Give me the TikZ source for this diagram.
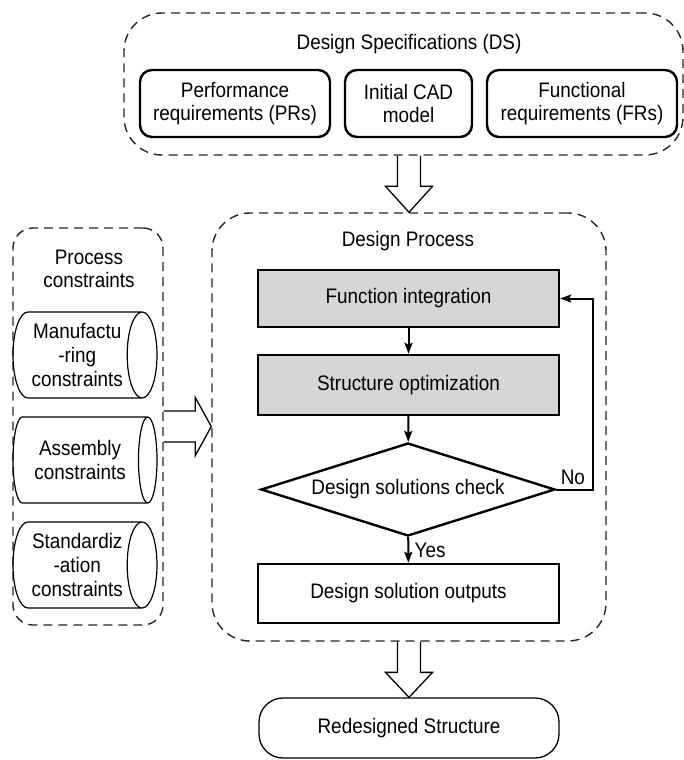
\documentclass[tikz,border=0pt]{standalone}
\usepackage{fontspec}
\setmainfont{Liberation Sans}[FakeStretch=0.9]
\usetikzlibrary{shapes.geometric,arrows.meta,calc}
\begin{document}
\begin{tikzpicture}[x=1pt,y=-1pt,
  font=\fontsize{21}{23}\selectfont,
  dashbox/.style={draw=black!85, line width=1.4pt, dash pattern=on 9pt off 6pt, inner sep=0pt},
  reqbox/.style={draw, line width=2.4pt, rounded corners=12pt, align=center, minimum height=67pt, inner sep=0pt},
  procbox/.style={draw, line width=2.4pt, fill=black!16, minimum width=301pt, inner sep=0pt},
  outbox/.style={draw, line width=2.4pt, fill=white, minimum width=301pt, inner sep=0pt},
  cyl/.style={cylinder, draw, line width=1.2pt, aspect=0.47, minimum height=144pt, minimum width=86pt, inner sep=0pt, align=center, anchor=shape center, font=\fontsize{21}{24}\selectfont},
  conn/.style={line width=2pt, -{Stealth[length=11pt,width=8pt,inset=2pt]}},
  hollow/.style={draw, line width=1.3pt, line join=miter},
]
\fill[white] (0,0) rectangle (684,760);

% Design specifications
\node[dashbox, rounded corners=38pt, minimum width=559pt, minimum height=142pt] (ds) at (403.5,84) {};
\node (dst) at (409,44) {Design Specifications (DS)};
\node[reqbox, minimum width=190pt] (pr) at (235,103.5) {Performance\\requirements (PRs)};
\node[reqbox, minimum width=127pt] (cad) at (408.5,103.5) {Initial CAD\\model};
\node[reqbox, minimum width=190pt] (fr) at (582,103.5) {Functional\\requirements (FRs)};

% Design process
\node[dashbox, rounded corners=38pt, minimum width=394pt, minimum height=428pt] (dp) at (409,427) {};
\node (dpt) at (408,241) {Design Process};
\node[procbox, minimum height=57pt] (fi) at (408.5,298.5) {Function integration};
\node[procbox, minimum height=60pt] (so) at (408.5,385) {Structure optimization};
\node[diamond, draw, line width=2.4pt, fill=white, minimum width=294pt, minimum height=93pt, inner sep=0pt, aspect=3.16] (dia) at (408,489.5) {Design solutions check};
\node[outbox, minimum height=59pt] (dso) at (408.5,593.5) {Design solution outputs};

% Process constraints
\node[dashbox, rounded corners=20pt, minimum width=150pt, minimum height=397pt] (pc) at (88,426.5) {};
\node[align=center] (pct) at (89,269) {Process\\constraints};
\node[cyl] (mc) at (85,355) {Manufactu\\-ring\\constraints};
\node[cyl] (ac) at (85,460) {Assembly\\constraints};
\node[cyl] (sc) at (85,565) {Standardiz\\-ation\\constraints};

% Output
\node[draw, line width=1.3pt, rounded corners=24pt, minimum width=300pt, minimum height=60pt] (rs) at (409,728) {Redesigned Structure};

% connectors
\draw[conn] (fi) -- (so);
\draw[conn] (so) -- (dia);
\draw[conn] (dia) -- node[right, xshift=2pt] {Yes} (dso);
\draw[conn] (dia.east) -- node[above, pos=0.45] {No} ++(37,0) |- (fi.east);

% hollow arrows
\coordinate (h1) at (ds.south -| dp.north);
\draw[hollow] ($(h1)+(11.5,0)$) -- ($(dp.north)+(11.5,-26)$) -- ($(dp.north)+(23.5,-26)$) -- (dp.north)
  -- ($(dp.north)+(-23.5,-26)$) -- ($(dp.north)+(-11.5,-26)$) -- ($(h1)+(-11.5,0)$);
\coordinate (h2) at (dp.south -| rs.north);
\draw[hollow] ($(h2)+(11.5,0)$) -- ($(rs.north)+(11.5,-25)$) -- ($(rs.north)+(23.5,-25)$) -- (rs.north)
  -- ($(rs.north)+(-23.5,-25)$) -- ($(rs.north)+(-11.5,-25)$) -- ($(h2)+(-11.5,0)$);
\coordinate (h3) at (pc.east -| dp.west);
\draw[hollow] ($(pc.east)+(0,-15.5)$) -- ($(h3)+(-16,-15.5)$) -- ($(h3)+(-16,-29)$) -- (h3)
  -- ($(h3)+(-16,29)$) -- ($(h3)+(-16,15.5)$) -- ($(pc.east)+(0,15.5)$);
\end{tikzpicture}
\end{document}
